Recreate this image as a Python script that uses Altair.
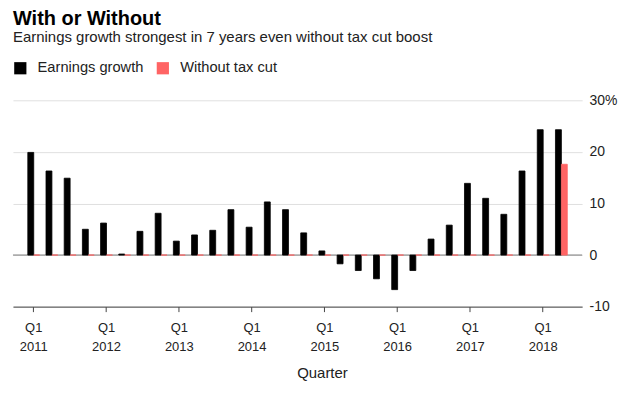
import altair as alt
import pandas as pd

quarters = [f"Q{q} {y}" for y in range(2011, 2019) for q in range(1, 5)][:30]
earnings = [19.9, 16.3, 14.9, 5.0, 6.2, 0.2, 4.6, 8.1, 2.7, 3.9, 4.8, 8.8, 5.4, 10.3, 8.8,
            4.3, 0.8, -1.7, -3.0, -4.6, -6.7, -3.0, 3.1, 5.8, 13.9, 11.0, 7.9, 16.3, 24.3, 24.3]
without_tax = [0, 0, 0, 0, 0, 0, 0, 0, 0, 0, 0, 0, 0, 0, 0,
               0, 0, 0, 0, 0, 0, 0, 0, 0, 0, 0, 0, 0, 0, 17.6]
series_names = ["Earnings growth", "Without tax cut"]
series_colors = ["#000000", "#ff6464"]
q1_ticks = [q for q in quarters if q.startswith("Q1")]

rows = []
for i, q in enumerate(quarters):
    rows.append({"quarter": q, "series": series_names[0], "value": earnings[i]})
    rows.append({"quarter": q, "series": series_names[1], "value": without_tax[i]})
df = pd.DataFrame(rows)

FONT = "Liberation Sans"

color_scale = alt.Scale(domain=series_names, range=series_colors)

x_enc = alt.X(
    "quarter:N",
    sort=quarters,
    scale=alt.Scale(paddingInner=0.35, paddingOuter=0.815),
    axis=alt.Axis(
        values=q1_ticks,
        labelExpr="split(datum.value, ' ')",
        labelAngle=0,
        labelFontSize=13,
        labelColor="#222222",
        labelLineHeight=19.5,
        labelPadding=10,
        tickSize=5,
        tickColor="#444444",
        domainColor="#444444",
        title="Quarter",
        titleFontSize=15,
        titleFontWeight="normal",
        titleColor="#222222",
        titlePadding=12,
        titleX=310,
        titleAnchor="middle",
        grid=False,
    ),
)

y_enc = alt.Y(
    "value:Q",
    scale=alt.Scale(domain=[-10, 30], nice=False, zero=False),
    axis=alt.Axis(
        orient="right",
        values=[-10, 0, 10, 20, 30],
        labelExpr="datum.value == 30 ? '30%' : '' + datum.value",
        labelFontSize=14,
        labelColor="#222222",
        labelPadding=7,
        domain=False,
        ticks=False,
        grid=True,
        gridColor="#e0e0e0",
        title=None,
    ),
)

bars = alt.Chart(df).mark_bar(strokeWidth=0.8).encode(
    x=x_enc,
    xOffset=alt.XOffset("series:N", sort=series_names, scale=alt.Scale(paddingInner=0, paddingOuter=0)),
    y=y_enc,
    color=alt.Color(
        "series:N",
        scale=color_scale,
        sort=series_names,
        legend=alt.Legend(
            title=None,
            orient="none",
            legendX=0,
            legendY=-40,
            direction="horizontal",
            symbolType="square",
            symbolSize=150,
            symbolStrokeWidth=0,
            symbolOpacity=1,
            labelFontSize=14.7,
            labelColor="#222222",
            labelOffset=10,
            columnPadding=12,
        ),
    ),
    stroke=alt.Stroke("series:N", scale=color_scale, sort=series_names, legend=None),
)

zero_rule = alt.Chart(pd.DataFrame({"y": [0]})).mark_rule(color="#7a7a7a", strokeWidth=1).encode(
    y=alt.Y("y:Q", scale=alt.Scale(domain=[-10, 30], nice=False, zero=False))
)

chart = alt.layer(zero_rule, bars).properties(
    width=571,
    height=207,
    padding={"left": 4, "top": 0, "right": 0, "bottom": 2},
    title=alt.TitleParams(
        text="With or Without",
        subtitle="Earnings growth strongest in 7 years even without tax cut boost",
        anchor="start",
        frame="group",
        fontSize=20,
        fontWeight="bold",
        color="#000000",
        subtitleFontSize=15,
        subtitleColor="#222222",
        subtitlePadding=1,
        offset=16,
    ),
).configure(font=FONT).configure_view(stroke=None)

chart.save("out.html", embed_options={"renderer": "svg", "actions": False})
